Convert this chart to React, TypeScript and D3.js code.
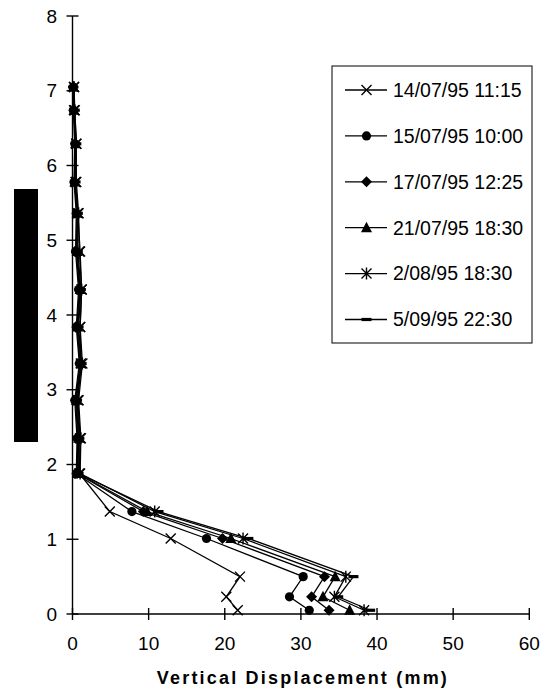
import React from 'react';
import * as d3 from 'd3';

// depth below surface (m) of each measuring point
const depths = [7.05, 6.74, 6.29, 5.78, 5.36, 4.85, 4.34, 3.84, 3.35, 2.86, 2.35, 1.88, 1.37, 1.01, 0.5, 0.23, 0.05];

const seriesNames = ['14/07/95 11:15', '15/07/95 10:00', '17/07/95 12:25', '21/07/95 18:30', '2/08/95 18:30', '5/09/95 22:30'];

// vertical displacement (mm) per reading
const s1 = [0.2, 0.2, 0.5, 0.4, 0.7, 1.0, 1.2, 1.0, 1.1, 0.7, 1.0, 0.9, 4.9, 12.9, 22.0, 20.2, 21.7];
const s2 = [0.1, 0.1, 0.3, 0.2, 0.5, 0.4, 0.8, 0.5, 0.9, 0.3, 0.6, 0.5, 7.8, 17.6, 30.3, 28.5, 31.1];
const s3 = [0.1, 0.2, 0.4, 0.3, 0.6, 0.5, 0.9, 0.6, 1.0, 0.4, 0.7, 0.6, 9.3, 19.7, 33.1, 31.4, 33.7];
const s4 = [0.1, 0.2, 0.4, 0.3, 0.6, 0.6, 1.0, 0.7, 1.1, 0.5, 0.8, 0.7, 9.8, 20.8, 34.5, 32.9, 36.4];
const s5 = [0.2, 0.3, 0.5, 0.5, 0.8, 0.9, 1.2, 1.0, 1.3, 0.8, 1.1, 1.0, 10.8, 22.4, 35.9, 34.4, 38.3];
const s6 = [0.1, 0.3, 0.5, 0.4, 0.7, 0.7, 1.1, 0.8, 1.2, 0.6, 0.9, 0.8, 11.3, 23.1, 36.9, 34.9, 39.1];

const xTicks = [0, 10, 20, 30, 40, 50, 60];
const yTicks = [0, 1, 2, 3, 4, 5, 6, 7, 8];

const allSeries = [s1, s2, s3, s4, s5, s6];
const markerTypes = ['x', 'circle', 'diamond', 'triangle', 'asterisk', 'dash'];

const font = '"Liberation Sans", Arial, sans-serif';

const Marker = ({ type, cx, cy }: { type: string; cx: number; cy: number }) => {
  const s = 5;
  switch (type) {
    case 'x':
      return (
        <path d={`M${cx - s},${cy - s}L${cx + s},${cy + s}M${cx - s},${cy + s}L${cx + s},${cy - s}`}
          stroke="#000" strokeWidth={1.4} fill="none" />
      );
    case 'circle':
      return <circle cx={cx} cy={cy} r={4.6} fill="#000" />;
    case 'diamond':
      return <path d={`M${cx},${cy - 5.5}L${cx + 5.5},${cy}L${cx},${cy + 5.5}L${cx - 5.5},${cy}Z`} fill="#000" />;
    case 'triangle':
      return <path d={`M${cx},${cy - 6}L${cx + 5.5},${cy + 4.5}L${cx - 5.5},${cy + 4.5}Z`} fill="#000" />;
    case 'asterisk':
      return (
        <path d={`M${cx - s},${cy - s}L${cx + s},${cy + s}M${cx - s},${cy + s}L${cx + s},${cy - s}M${cx},${cy - 6}L${cx},${cy + 6}`}
          stroke="#000" strokeWidth={1.4} fill="none" />
      );
    default:
      return <rect x={cx - 5} y={cy - 1.6} width={10} height={3.2} fill="#000" />;
  }
};

export default function App() {
  const x = d3.scaleLinear().domain([0, 60]).range([72.5, 529.3]);
  const y = d3.scaleLinear().domain([0, 8]).range([614, 16]);

  const line = d3.line<number>()
    .x(d => x(d))
    .y((_, i) => y(depths[i]));

  const legendX = 332;
  const legendY = 66;
  const rowY = (i: number) => 90 + i * 45.9;

  return (
    <div style={{ position: 'absolute', left: 0, top: 0 }}>
      <svg width={541} height={690} style={{ display: 'block', background: '#fff' }} fontFamily={font}>
        {/* redacted axis label */}
        <rect x={14} y={189} width={24} height={253} fill="#000" />

        {/* y axis */}
        <line x1={x(0)} x2={x(0)} y1={y(8)} y2={y(0)} stroke="#000" strokeWidth={1.4} />
        {yTicks.map(t => (
          <g key={'y' + t}>
            <line x1={x(0) - 6} x2={x(0) + 6} y1={y(t)} y2={y(t)} stroke="#000" strokeWidth={1.4} />
            <text x={57} y={y(t)} dy="0.35em" textAnchor="end" fontSize={19}>{t}</text>
          </g>
        ))}

        {/* x axis */}
        <line x1={x(0)} x2={x(60)} y1={y(0)} y2={y(0)} stroke="#000" strokeWidth={1.4} />
        {xTicks.map(t => (
          <g key={'x' + t}>
            <line x1={x(t)} x2={x(t)} y1={y(0) - 6} y2={y(0) + 6} stroke="#000" strokeWidth={1.4} />
            <text x={x(t)} y={650} textAnchor="middle" fontSize={19}>{t}</text>
          </g>
        ))}
        <text x={(x(0) + x(60)) / 2 + 2} y={684} textAnchor="middle" fontSize={18} fontWeight="bold" letterSpacing={2.2}>
          Vertical Displacement (mm)
        </text>

        {/* series */}
        {allSeries.map((s, k) => (
          <g key={'s' + k}>
            <path d={line(s) || ''} fill="none" stroke="#000" strokeWidth={1.3} />
            {s.map((v, i) => (
              <Marker key={i} type={markerTypes[k]} cx={x(v)} cy={y(depths[i])} />
            ))}
          </g>
        ))}

        {/* legend */}
        <rect x={legendX} y={legendY} width={200} height={277} fill="#fff" stroke="#000" strokeWidth={1} />
        {seriesNames.map((name, i) => (
          <g key={'l' + i}>
            <line x1={345} x2={387} y1={rowY(i)} y2={rowY(i)} stroke="#000" strokeWidth={1.3} />
            <Marker type={markerTypes[i]} cx={366.5} cy={rowY(i)} />
            <text x={393} y={rowY(i)} dy="0.35em" fontSize={19.5}>{name}</text>
          </g>
        ))}
      </svg>
    </div>
  );
}
